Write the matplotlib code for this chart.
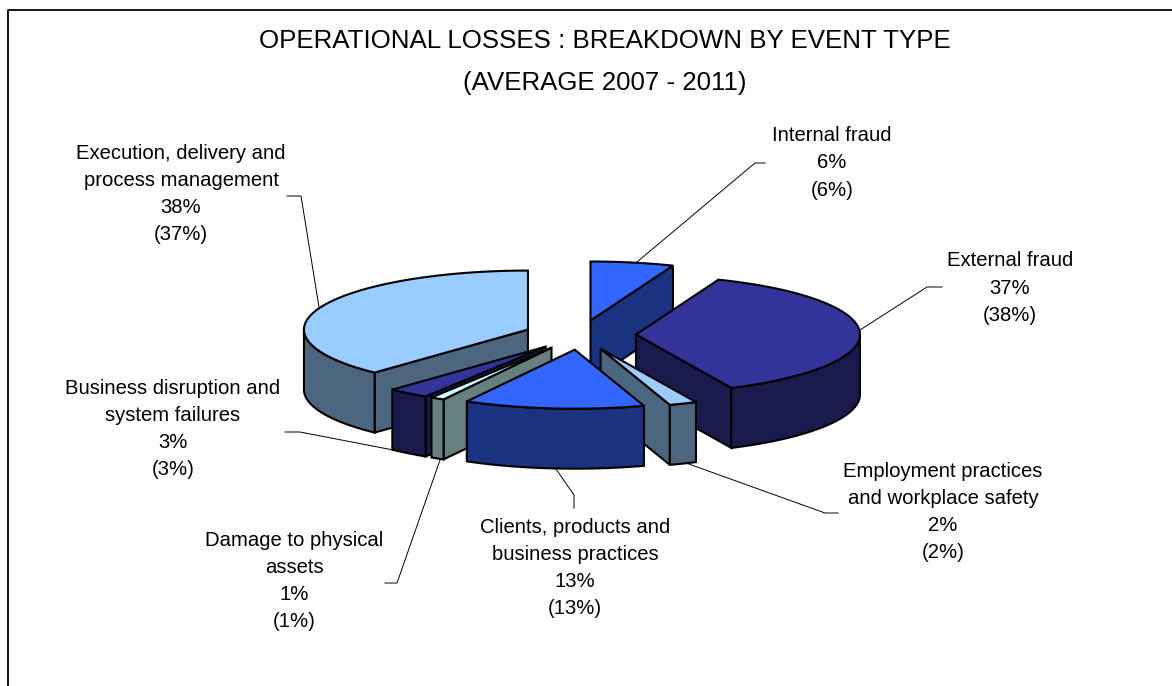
import numpy as np
import matplotlib
matplotlib.use("Agg")
import matplotlib.pyplot as plt
from matplotlib.patches import Polygon

plt.rcParams['font.family'] = ['Liberation Sans', 'DejaVu Sans']

# Data, clockwise from 12 o'clock
names = ["Internal fraud", "External fraud",
         "Employment practices\nand workplace safety",
         "Clients, products and\nbusiness practices",
         "Damage to physical\nassets",
         "Business disruption and\nsystem failures",
         "Execution, delivery and\nprocess management"]
share = [6, 37, 2, 13, 1, 3, 38]
previous = [6, 38, 2, 13, 1, 3, 37]

top_colors = ["#3366FF", "#333399", "#99CCFF", "#3366FF", "#CCFFFF", "#333399", "#99CCFF"]
side_colors = ["#1A3380", "#1A1A4D", "#4D6680", "#1A3380", "#668080", "#1A1A4D", "#4D6680"]

# Label centre and leader line, in picture pixels
label_pos = [(832, 163), (1010, 288), (943, 512), (575, 568), (294, 581), (173, 429), (181, 194)]
leaders = [
    [(637, 262), (755, 163), (765, 163)],
    [(860, 330), (927, 287), (942, 287)],
    [(686, 463), (825, 513), (838, 513)],
    [(556, 469), (574, 495), (574, 508)],
    [(440, 460), (397, 583), (385, 583)],
    [(414, 454), (300, 432), (285, 432)],
    [(319, 307), (301, 196), (287, 196)],
]

# Pie geometry
cx, cy = 580, 335
rx, ry = 224, 59
depth = 60
explode = 0.25


def point(ox, oy, a):
    # angle is clockwise from the top
    return ox + rx * np.sin(a), oy - ry * np.cos(a)


fig = plt.figure(figsize=(11.72, 6.86), dpi=100)
ax = fig.add_axes([0, 0, 1, 1])
ax.set_xlim(0, 1172)
ax.set_ylim(686, 0)
ax.axis("off")

# Chart area border, only top and left show in the crop
ax.plot([8, 8, 1172], [686, 10, 10], color="black", lw=1.3, solid_capstyle="butt")

ax.text(605, 62, "OPERATIONAL LOSSES : BREAKDOWN BY EVENT TYPE\n(AVERAGE 2007 - 2011)",
        ha="center", va="center", fontsize=18.6, linespacing=1.92)

edges = np.cumsum([0] + share) / sum(share) * 2 * np.pi
mids = (edges[:-1] + edges[1:]) / 2
z = 2

# back slices first
for i in np.argsort(-np.cos(mids)):
    a0, a1 = edges[i], edges[i + 1]
    ox, oy = point(cx, cy, mids[i])
    ox, oy = cx + (ox - cx) * explode, cy + (oy - cy) * explode
    arc = np.linspace(a0, a1, 80)
    xs, ys = point(ox, oy, arc)

    # cut faces
    if np.sin(a0) < 0:
        x0, y0 = point(ox, oy, a0)
        face = [(ox, oy), (x0, y0), (x0, y0 + depth), (ox, oy + depth)]
        ax.add_patch(Polygon(face, fc=side_colors[i], ec="black", lw=1.5, zorder=z))
        z += 1
    if np.sin(a1) > 0:
        x1, y1 = point(ox, oy, a1)
        face = [(ox, oy), (x1, y1), (x1, y1 + depth), (ox, oy + depth)]
        ax.add_patch(Polygon(face, fc=side_colors[i], ec="black", lw=1.5, zorder=z))
        z += 1

    # outer rim, front half only
    front = np.cos(arc) < 0
    if front.sum() > 1:
        rim = list(zip(xs[front], ys[front])) + list(zip(xs[front][::-1], ys[front][::-1] + depth))
        ax.add_patch(Polygon(rim, fc=side_colors[i], ec="black", lw=1.5, zorder=z))
        z += 1

    top = [(ox, oy)] + list(zip(xs, ys))
    ax.add_patch(Polygon(top, fc=top_colors[i], ec="black", lw=1.5, zorder=z))
    z += 1

for i in range(len(names)):
    lx, ly = zip(*leaders[i])
    ax.plot(lx, ly, color="black", lw=0.7, zorder=z)
    ax.text(label_pos[i][0], label_pos[i][1],
            f"{names[i]}\n{share[i]}%\n({previous[i]}%)",
            ha="center", va="center", fontsize=14.6, linespacing=1.55, zorder=z)

fig.savefig("out.png", dpi=100)
